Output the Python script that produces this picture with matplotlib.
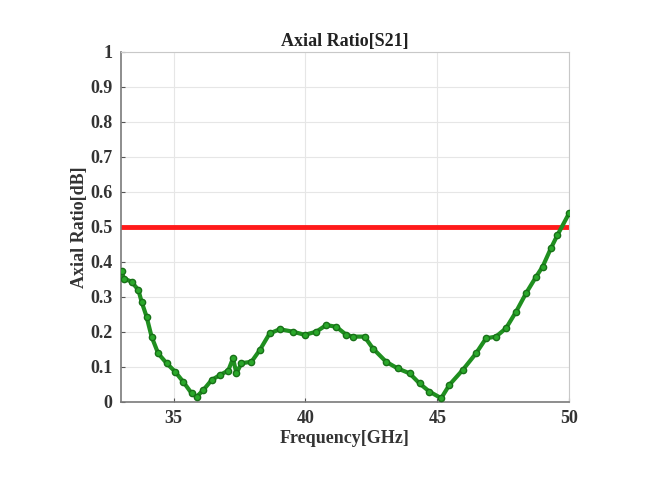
import matplotlib
matplotlib.use("Agg")
import matplotlib.pyplot as plt

freq = [33.03, 33.1, 33.4, 33.66, 33.78, 33.97, 34.16, 34.41, 34.73, 35.05, 35.36,
        35.68, 35.87, 36.12, 36.44, 36.75, 37.07, 37.25, 37.38, 37.57, 37.95, 38.27,
        38.64, 39.02, 39.53, 39.97, 40.41, 40.79, 41.17, 41.55, 41.8, 42.24, 42.56,
        43.06, 43.5, 43.95, 44.33, 44.7, 45.15, 45.46, 45.97, 46.47, 46.85, 47.23,
        47.61, 47.99, 48.37, 48.75, 49.0, 49.31, 49.56, 50.0]
axial_ratio = [0.374, 0.352, 0.343, 0.319, 0.286, 0.243, 0.186, 0.138, 0.110, 0.086, 0.057,
               0.024, 0.014, 0.033, 0.062, 0.076, 0.089, 0.124, 0.081, 0.110, 0.114, 0.148,
               0.195, 0.207, 0.200, 0.191, 0.200, 0.219, 0.214, 0.191, 0.186, 0.186, 0.152,
               0.114, 0.095, 0.081, 0.052, 0.029, 0.010, 0.048, 0.091, 0.138, 0.181, 0.186,
               0.210, 0.257, 0.310, 0.357, 0.386, 0.438, 0.476, 0.538]
threshold = 0.5
x_ticks = [35, 40, 45, 50]
y_ticks = [0, 0.1, 0.2, 0.3, 0.4, 0.5, 0.6, 0.7, 0.8, 0.9, 1]
y_tick_labels = ["0", "0.1", "0.2", "0.3", "0.4", "0.5", "0.6", "0.7", "0.8", "0.9", "1"]

plt.rcParams['font.family'] = ['Liberation Serif', 'DejaVu Serif']
plt.rcParams['font.weight'] = 'bold'

fig = plt.figure(figsize=(6.53, 4.82), dpi=100)
ax = fig.add_axes([0.1853, 0.1666, 0.6861, 0.7261])

ax.plot([33, 50], [threshold, threshold], color='#ff1a1a', lw=3.5, zorder=2)
ax.plot(freq, axial_ratio, color='#1f8f1f', lw=3, marker='o', ms=4.5,
        markerfacecolor='#2aa82a', markeredgecolor='#187018', markeredgewidth=1.0, zorder=3)

ax.set_xlim(33, 50)
ax.set_ylim(0, 1)
ax.set_xticks(x_ticks)
ax.set_yticks(y_ticks)
ax.set_yticklabels(y_tick_labels)
ax.grid(True, color='#e6e6e6', lw=0.8)
ax.set_axisbelow(True)
for side in ['top', 'right']:
    ax.spines[side].set_color('#c8c8c8')
for side in ['left', 'bottom']:
    ax.spines[side].set_color('#7a7a7a')
    ax.spines[side].set_linewidth(1.2)
ax.tick_params(direction='in', length=3, colors='#555555', labelsize=13, pad=6)
for lab in ax.get_xticklabels() + ax.get_yticklabels():
    lab.set_color('#333333')
    lab.set_fontweight('bold')

ax.set_title('Axial Ratio[S21]', fontsize=13, fontweight='bold', color='#222222', pad=4)
ax.set_xlabel('Frequency[GHz]', fontsize=13, fontweight='bold', color='#333333', labelpad=2)
ax.set_ylabel('Axial Ratio[dB]', fontsize=13, fontweight='bold', color='#333333', labelpad=2)

fig.savefig('out.png', dpi=100)
